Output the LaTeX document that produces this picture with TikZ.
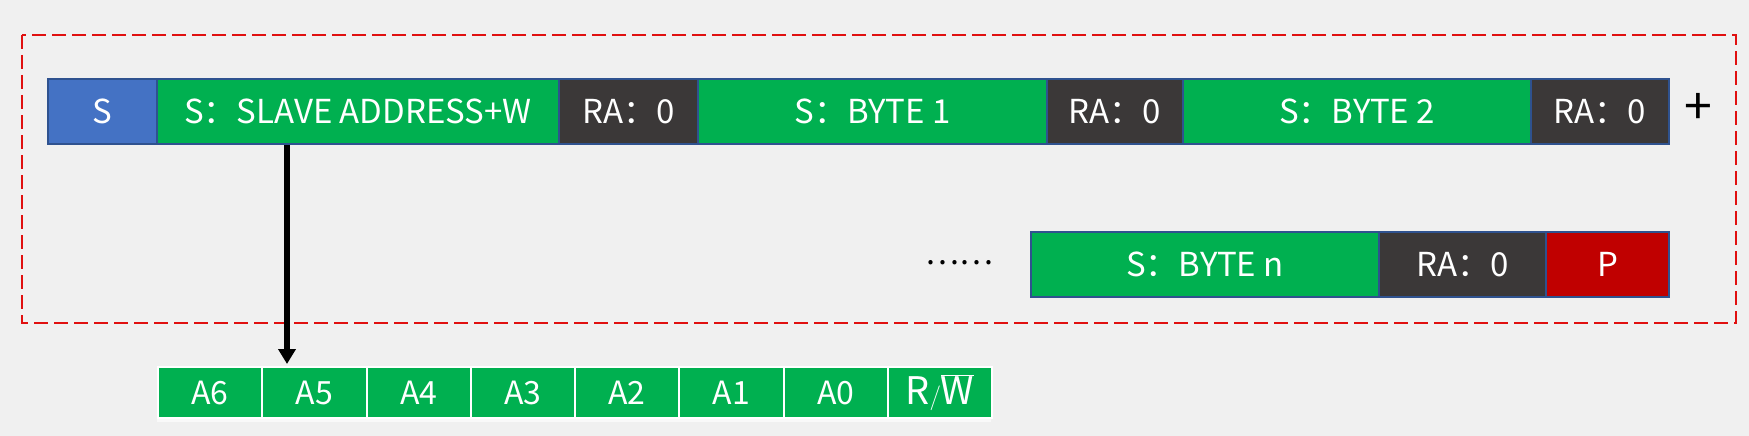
\documentclass[tikz,border=0pt]{standalone}
\usepackage{fontspec}
\setmainfont{Noto Sans CJK SC}
\usetikzlibrary{arrows.meta}
\definecolor{bg}{HTML}{F0F0F0}
\definecolor{sblue}{HTML}{4472C4}
\definecolor{sgreen}{HTML}{00B050}
\definecolor{sdark}{HTML}{3B3838}
\definecolor{sred}{HTML}{C00000}
\definecolor{edgeblue}{HTML}{2F528F}
\definecolor{dashred}{HTML}{E01010}
\begin{document}
\begin{tikzpicture}[x=1pt,y=-1pt,
  fld/.style={draw=edgeblue, line width=2pt, text=white, font=\fontsize{33}{38}\selectfont,
    minimum height=65pt, inner sep=0pt, anchor=north west},
  bitcell/.style={draw=white, line width=2pt, fill=sgreen, text=white, font=\fontsize{32}{38}\selectfont,
    minimum height=51pt, minimum width=104.25pt, inner sep=0pt, anchor=north west},
  frame/.style={draw=dashred, line width=2.5pt, dash pattern=on 14pt off 6pt}]
\fill[bg] (0,0) rectangle (1749,436);
\useasboundingbox (0,0) rectangle (1749,436);
% dashed frame
\draw[frame] (22,35) rectangle (1736,323);
% top row
\node[fld, fill=sblue,  minimum width=109pt] (s)   at (47,78)   {S};
\node[fld, fill=sgreen, minimum width=402pt] (sla) at (156,78)  {S：SLAVE ADDRESS+W};
\node[fld, fill=sdark,  minimum width=139pt] (ra1) at (558,78)  {RA：0};
\node[fld, fill=sgreen, minimum width=349pt] (b1)  at (697,78)  {S：BYTE 1};
\node[fld, fill=sdark,  minimum width=136pt] (ra2) at (1046,78) {RA：0};
\node[fld, fill=sgreen, minimum width=348pt] (b2)  at (1182,78) {S：BYTE 2};
\node[fld, fill=sdark,  minimum width=138pt] (ra3) at (1530,78) {RA：0};
\node[font=\fontsize{50}{54}\selectfont, inner sep=0pt] (plus) at (1698,109) {+};
% second row
\node[font=\fontsize{32}{36}\selectfont, inner sep=0pt] (dots) at (959,263) {……};
\node[fld, fill=sgreen, minimum width=348pt] (bn)  at (1030,231) {S：BYTE n};
\node[fld, fill=sdark,  minimum width=167pt] (ra4) at (1378,231) {RA：0};
\node[fld, fill=sred,   minimum width=123pt] (p)   at (1545,231) {P};
% bit cells
\fill[white!60!bg] (157,417) rectangle (991,422);
\node[bitcell] (a6) at (157,366) {A6};
\node[bitcell] (a5) at (261.25,366) {A5};
\node[bitcell] (a4) at (365.5,366) {A4};
\node[bitcell] (a3) at (469.75,366) {A3};
\node[bitcell] (a2) at (574,366) {A2};
\node[bitcell] (a1) at (678.25,366) {A1};
\node[bitcell] (a0) at (782.5,366) {A0};
\node[bitcell, font=\fontsize{38}{42}\selectfont] (rw) at (886.75,366) {$\mathrm{R}/\overline{\mathrm{W}}$};
% arrow
\coordinate (ax) at (287,0);
\draw[line width=6pt, -{Triangle[width=17pt,length=15pt]}] (sla.south -| ax) -- ([yshift=2pt]a5.north -| ax);
\end{tikzpicture}
\end{document}
